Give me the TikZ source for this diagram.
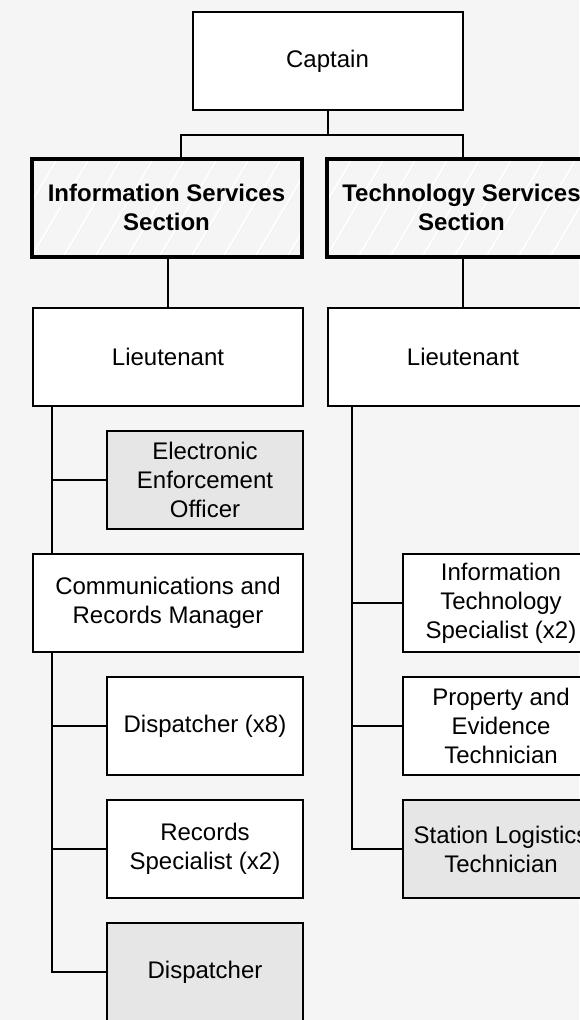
\documentclass[tikz,border=0pt]{standalone}
\usepackage{fontspec}
\setmainfont{Liberation Sans}
\definecolor{canvas}{HTML}{F5F5F5}
\definecolor{shade}{HTML}{E6E6E6}

\begin{document}
\begin{tikzpicture}[x=1pt, y=-1pt,
    box/.style = {draw, fill=white, line width=2pt, minimum width=270pt, minimum height=98pt, inner sep=0pt, align=center, font=\fontsize{24}{29}\selectfont},
    subbox/.style = {box, minimum width=196pt},
    greybox/.style = {subbox, fill=shade},
    section/.style = {box, fill=canvas, line width=4pt, font=\fontsize{24}{29}\selectfont\bfseries,
      path picture={\foreach \k in {-5,...,10} {
        \draw [white, line width=1.6pt] ([xshift=\k*32pt]path picture bounding box.south west) -- ++(62pt, 105pt);
        \draw [black!5, line width=0.6pt] ([xshift=\k*32pt+2pt]path picture bounding box.south west) -- ++(62pt, 105pt);}}},
    link/.style = {line width=2pt}]
      \useasboundingbox (0, 0) rectangle (579, 1020);
      \fill [canvas] (0, 0) rectangle (579, 1020);

      \node (captain) at (327.5, 61) [box] {Captain};
      \node (infosec) at (166.5, 207.5) [section] {Information Services\\Section};
      \node (techsec) at (461.5, 207.5) [section] {Technology Services\\Section};

      \node (lt1) at (168, 357) [box] {Lieutenant};
      \node (eeo) at (205, 480) [greybox] {Electronic\\Enforcement\\Officer};
      \node (comm) at (168, 603) [box] {Communications and\\Records Manager};
      \node (disp8) at (205, 726) [subbox] {Dispatcher (x8)};
      \node (recspec) at (205, 849) [subbox] {Records\\Specialist (x2)};
      \node (disp) at (205, 972) [greybox] {Dispatcher};

      \node (lt2) at (463, 357) [box] {Lieutenant};
      \node (itspec) at (501, 603) [subbox] {Information\\Technology\\Specialist (x2)};
      \node (propev) at (501, 726) [subbox] {Property and\\Evidence\\Technician};
      \node (stlog) at (501, 849) [greybox] {Station Logistics\\Technician};

      \coordinate (bus) at (327.5, 135);
      \draw [link] (captain.south) -- (bus);
      \draw [link] (bus) -| ([xshift=14.5pt]infosec.north);
      \draw [link] (bus) -| ([xshift=1.5pt]techsec.north);
      \draw [link] (infosec.south -| lt1.north) -- (lt1.north);
      \draw [link] (techsec.south -| lt2.north) -- (lt2.north);

      \draw [link] ([xshift=20pt]lt1.south west) -- ([xshift=20pt]comm.north west);
      \draw [link] ([xshift=20pt]lt1.south west) |- (eeo.west);
      \draw [link] ([xshift=20pt]comm.south west) |- (disp8.west);
      \draw [link] ([xshift=20pt]comm.south west) |- (recspec.west);
      \draw [link] ([xshift=20pt]comm.south west) |- (disp.west);

      \draw [link] ([xshift=25pt]lt2.south west) |- (itspec.west);
      \draw [link] ([xshift=25pt]lt2.south west) |- (propev.west);
      \draw [link] ([xshift=25pt]lt2.south west) |- (stlog.west);

    \end{tikzpicture}
\end{document}
